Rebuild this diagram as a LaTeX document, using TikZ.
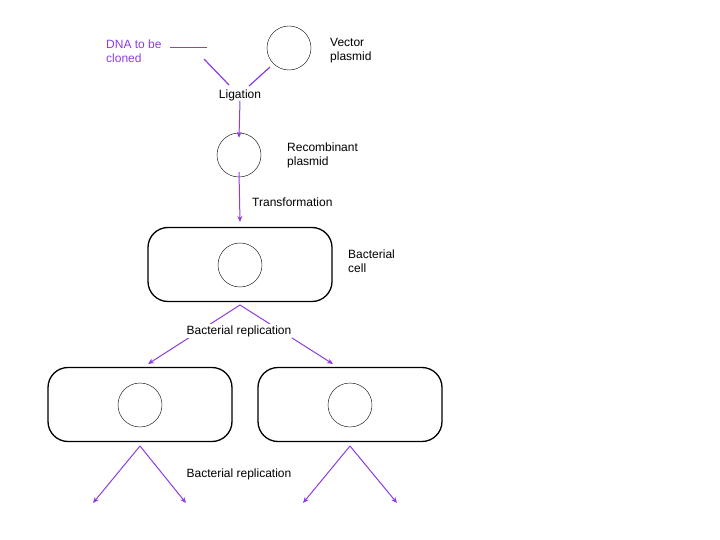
\documentclass[tikz,border=0pt]{standalone}
\usepackage{fontspec}
\setmainfont{Liberation Sans}
\usetikzlibrary{positioning,arrows.meta}
\definecolor{purp}{RGB}{140,60,225}
\tikzset{
  lbl/.style={font=\fontsize{12}{14}\selectfont,inner sep=1pt,align=left},
  plasmid/.style={draw=black,circle,thin,minimum size=44pt,inner sep=0pt},
  cell/.style={draw=black,line width=1.3pt,rounded corners=20pt,minimum width=184pt,minimum height=74pt,inner sep=0pt},
  flow/.style={draw=purp,line width=1pt,-{Stealth[length=6pt,width=5pt]}},
  bond/.style={draw={rgb,255:red,140;green,60;blue,225},line width=1.2pt},
}
\begin{document}
\begin{tikzpicture}[x=1pt,y=-1pt]
\useasboundingbox (0,0) rectangle (720,540);
% starting material
\node[lbl,text=purp,anchor=west] (dna) at (105,51) {DNA to be\\cloned};
\coordinate (fragL) at (170,47.5);
\coordinate (fragR) at (207,47.5);
\node[plasmid] (vec) at (289,48) {};
\node[lbl,anchor=west] (vectxt) at (329,51) {Vector\\plasmid};
\node[lbl] (lig) at (240,95) {Ligation};
\coordinate (ligL) at (229,85);
\coordinate (ligR) at (249,86);
\coordinate (dnaEnd) at (204,59);
\coordinate (vecEnd) at (270,67);
% recombinant and host
\node[plasmid] (rec) at (239,155) {};
\node[lbl,anchor=west] (rectxt) at (286,155) {Recombinant\\plasmid};
\node[lbl,anchor=west] (trans) at (251,202) {Transformation};
\coordinate (transEnd) at (240,222);
\node[cell] (host) at (240,264.5) {};
\node[plasmid] (hostp) at (240,265) {};
\node[lbl,anchor=west] (hosttxt) at (347,261) {Bacterial\\cell};
% daughters
\node[cell] (dauA) at (140,404.5) {};
\node[plasmid] (dauAp) at (140,405) {};
\node[cell] (dauB) at (350,404.5) {};
\node[plasmid] (dauBp) at (350,405) {};
\coordinate (topSplit) at (240,305);
\coordinate (tipA) at (148,364);
\coordinate (tipB) at (333,364);
\coordinate (splitA) at (140,446);
\coordinate (splitB) at (350,446);
\coordinate (endA1) at (93,503);
\coordinate (endA2) at (186,503);
\coordinate (endB1) at (303,503);
\coordinate (endB2) at (397,503);

\draw[bond] (fragL) -- (fragR);
\draw[bond] (dnaEnd) -- (ligL);
\draw[bond] (vecEnd) -- (ligR);
\draw[flow] ([yshift=1pt]lig.south) -- ([yshift=-5pt]rec.north);
\draw[flow] ([yshift=5pt]rec.south) -- (transEnd);
\draw[flow] (topSplit) -- (tipA);
\draw[flow] (topSplit) -- (tipB);
\node[lbl,fill=white] (rep1) at (239,331) {Bacterial replication};
\draw[flow] (splitA) -- (endA1);
\draw[flow] (splitA) -- (endA2);
\draw[flow] (splitB) -- (endB1);
\draw[flow] (splitB) -- (endB2);
\node[lbl] (rep2) at (239,474) {Bacterial replication};
\end{tikzpicture}
\end{document}
